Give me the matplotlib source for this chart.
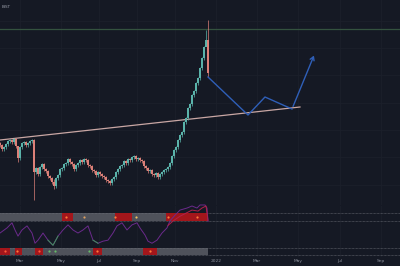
import matplotlib.pyplot as plt
from matplotlib.patches import Rectangle, FancyArrowPatch

# price closes (arbitrary price units), one per daily bar
closes = [60, 56, 58, 61, 64, 65, 63, 66, 59, 47, 58, 62, 63, 60, 62, 64, 65,
          33, 37, 31, 38, 41, 36, 34, 29, 27, 23, 19, 27, 30, 36, 37, 41, 42,
          46, 43, 41, 36, 40, 42, 45, 43, 46, 45, 40, 39, 35, 34, 30, 33, 31,
          29, 28, 25, 24, 22, 26, 28, 33, 36, 39, 40, 44, 42, 46, 45, 48, 49,
          46, 47, 45, 44, 39, 37, 34, 35, 31, 30, 32, 28, 31, 33, 35, 36, 38,
          42, 49, 55, 58, 65, 70, 73, 83, 87, 97, 101, 110, 114, 122, 127,
          137, 147, 158, 165, 132]
first_open = 62
# a few bars with long wicks: bar -> (low, high)
wicks = {9: (43, 58), 17: (5, 66), 27: (16, 26), 103: (160, 175), 104: (128, 185)}

# trend line and projected path (bar index, price)
trend_x = [0, 150]
trend_y = [65, 98]
path_x = [104, 124, 132.5, 146, 157.5]
path_y = [128, 90, 108, 96, 152]
level_line = 176

# oscillator pane (0-100 scale)
osc_x = [0, 3.5, 6, 7.5, 9, 11, 13.5, 16, 17.5, 19, 21.5, 24, 26.5, 29, 31.5,
         34, 36.5, 39, 41.5, 44, 46.5, 49, 51.5, 54, 56.5, 58.5, 61, 63.5, 66,
         68.5, 70, 72.5, 74, 76, 78.5, 81, 83.5, 85, 87.5, 90, 93.5, 96, 98.5,
         100, 102.5, 103.5, 104]
osc_y = [47, 57, 67, 53, 41, 53, 61, 47, 27, 33, 47, 33, 23, 41, 53, 63, 53,
         47, 53, 61, 33, 27, 31, 33, 47, 61, 67, 53, 63, 67, 57, 43, 31, 27,
         33, 47, 57, 71, 82, 92, 96, 100, 96, 102, 102, 96, 70]
osc2_x = [84, 87, 90, 93, 96, 99, 101, 103, 104]
osc2_y = [62, 72, 80, 86, 92, 90, 96, 100, 72]
green_spans = [(24, 29), (44.5, 50)]

top_red = [(31, 36.5), (57.5, 66), (83, 104)]
top_dots = [(33, '#ff7a3a'), (42, '#e0a060'), (57.5, '#ff7a3a'), (68, '#f0c060'),
            (84, '#ff7a3a'), (98.5, '#ff7a3a')]
bot_red = [(0, 5), (7.5, 11), (17.5, 21.5), (46.5, 51), (71.5, 78.5)]
bot_dots = [(2.5, '#ff5a3a'), (8.5, '#ff7a3a'), (19.5, '#ff5a3a'), (24.5, '#66bb6a'),
            (27.5, '#66bb6a'), (44.5, '#66bb6a'), (48.5, '#ff7a3a'), (75, '#ff7a3a')]

month_pos = [10, 30.5, 49.5, 68.5, 87.5, 108, 128.5, 149, 170, 190.5]
month_labels = ["Mar", "May", "Jul", "Sep", "Nov", "2022", "Mar", "May", "Jul", "Sep"]

bg = '#151924'
grid_c = '#1c202b'
up_c = '#5ab3aa'
down_c = '#dc8078'

fig = plt.figure(figsize=(4, 2.66), dpi=100, facecolor=bg)
ax = fig.add_axes([0, 1 - 205 / 266, 1, 205 / 266], facecolor=bg)
ax2 = fig.add_axes([0, 9 / 266, 1, 51 / 266], facecolor='none')

for a in (ax, ax2):
    a.set_xlim(0, 200)
    for s in a.spines.values():
        s.set_visible(False)
    a.set_xticks([])
    a.set_yticks([])
    for m in month_pos:
        a.axvline(m, color=grid_c, lw=0.6, zorder=0)
ax.set_ylim(0, 205)
ax2.set_ylim(0, 100)

for gy in [184, 157, 130, 102, 75, 48, 20]:
    ax.axhline(gy, color=grid_c, lw=0.6, zorder=0)
ax.axhline(level_line, color='#34523f', lw=0.9, zorder=1)

# candles
prev = first_open
for i, c in enumerate(closes):
    o = prev
    col = up_c if c >= o else down_c
    lo, hi = wicks.get(i, (min(o, c) - 1.5, max(o, c) + 1.5))
    ax.vlines(i, lo, hi, color=col, lw=0.5, zorder=3)
    ax.add_patch(Rectangle((i - 0.35, min(o, c)), 0.7, max(abs(c - o), 0.6),
                           facecolor=col, edgecolor='none', zorder=3))
    prev = c

ax.plot(trend_x, trend_y, color='#c9a7a4', lw=0.9, zorder=2)
ax.plot(path_x[:-1], path_y[:-1], color='#2f5fb8', lw=1.0, zorder=4)
ax.add_patch(FancyArrowPatch((path_x[-2], path_y[-2]), (path_x[-1], path_y[-1]),
                             arrowstyle='->,head_length=2.5,head_width=1.5',
                             color='#2f5fb8', lw=1.0, zorder=4))

ax.text(0.005, 0.975, "BIST", transform=ax.transAxes, fontsize=3,
        color='#9a9eaa', va='top', ha='left')

# oscillator bands
def band(y0, h, reds, dots):
    ax2.add_patch(Rectangle((0, y0), 104, h, facecolor='#4f525b', edgecolor='none', zorder=1))
    for x0, x1 in reds:
        ax2.add_patch(Rectangle((x0, y0), x1 - x0, h, facecolor='#a3161b',
                                edgecolor='none', zorder=2))
    for x, c in dots:
        ax2.plot(x, y0 + h / 2, 'o', ms=1.6, color=c, mec='none', zorder=3)
    for yy in (y0, y0 + h):
        ax2.axhline(yy, color='#6a6d76', lw=0.5, ls=(0, (1, 1)), zorder=1)

band(70, 16, top_red, top_dots)
band(4, 14, bot_red, bot_dots)

ax2.plot(osc_x, osc_y, color='#6b2a8c', lw=0.7, zorder=4, clip_on=False)
ax2.plot(osc2_x, osc2_y, color='#b0204a', lw=0.7, zorder=4, clip_on=False)
for x0, x1 in green_spans:
    xs = [x for x in osc_x if x0 <= x <= x1]
    ys = [y for x, y in zip(osc_x, osc_y) if x0 <= x <= x1]
    ax2.plot(xs, ys, color='#3f8f5a', lw=0.7, zorder=5)

for m, lab in zip(month_pos, month_labels):
    fig.text(m / 200, 5 / 266, lab, fontsize=3.2, color='#8a8e99', ha='center', va='center')

fig.savefig('out.png', dpi=100, facecolor=bg)
